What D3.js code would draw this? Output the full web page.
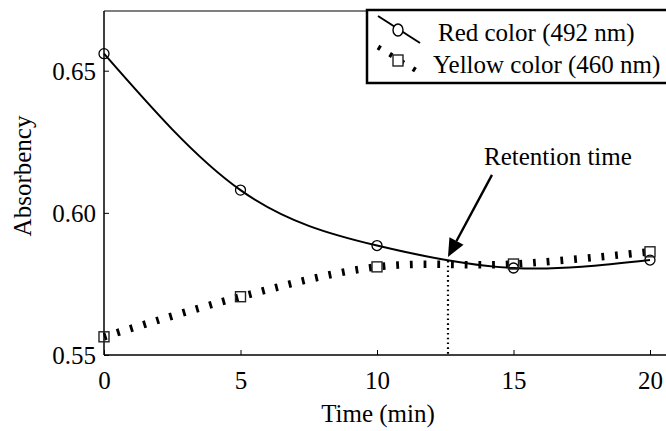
<!DOCTYPE html>
<html>
<head>
<meta charset="utf-8">
<script src="https://cdn.jsdelivr.net/npm/d3@7"></script>
<style>
	body { margin: 0; background: #fff; }
	svg { display: block; font-family: "Liberation Serif", "Times New Roman", serif; }
</style>
</head>
<body>
<div id="chart"></div>
<script>
// absorbency vs time plotter

var times = [0, 5, 10, 15, 20];
var redValues = [0.656, 0.608, 0.5885, 0.5806, 0.5834];
var yellowValues = [0.5564, 0.5705, 0.581, 0.582, 0.5863];
var xTicks = [0, 5, 10, 15, 20];
var yTicks = [0.55, 0.60, 0.65];
var seriesNames = ['Red color (492 nm)', 'Yellow color (460 nm)'];
var retentionTime = 12.6;
var retentionAbs = 0.5845;

function ChartPlotter() {
	this.width = 666;
	this.height = 431;
	this.svg = d3.select('#chart').append('svg')
		.attr('width', this.width).attr('height', this.height);
	this.x = d3.scaleLinear().domain([0, 20]).range([104, 650]);
	this.y = d3.scaleLinear().domain([0.55, 0.671]).range([355, 11]);
}

ChartPlotter.prototype = {
	draw: function () {
		var self = this,
			line = d3.line()
				.x(function (d) { return self.x(d[0]); })
				.y(function (d) { return self.y(d[1]); })
				.curve(d3.curveNatural);

		this.drawAxes();

		// fitted curves
		this.svg.append('path')
			.datum(d3.zip(times, redValues))
			.attr('d', line)
			.attr('fill', 'none').attr('stroke', '#000').attr('stroke-width', 2);

		this.svg.append('path')
			.datum(d3.zip(times, yellowValues))
			.attr('d', line.curve(d3.curveCatmullRom.alpha(0.5)))
			.attr('fill', 'none').attr('stroke', '#000').attr('stroke-width', 7.5)
			.attr('stroke-dasharray', '2.8,10.9');

		this.svg.selectAll('circle.red').data(d3.zip(times, redValues))
			.enter().append('circle').attr('class', 'red')
			.attr('cx', function (d) { return self.x(d[0]); })
			.attr('cy', function (d) { return self.y(d[1]); })
			.attr('r', 5)
			.attr('fill', 'none').attr('stroke', '#000').attr('stroke-width', 1.3);

		this.svg.selectAll('rect.yellow').data(d3.zip(times, yellowValues))
			.enter().append('rect').attr('class', 'yellow')
			.attr('x', function (d) { return self.x(d[0]) - 5; })
			.attr('y', function (d) { return self.y(d[1]) - 5; })
			.attr('width', 10).attr('height', 10)
			.attr('fill', 'none').attr('stroke', '#222').attr('stroke-width', 1.4);

		this.drawAnnotation()
			.drawLegend();
	},

	drawAxes: function () {
		// frame top line
		this.svg.append('line')
			.attr('x1', 104).attr('x2', this.width).attr('y1', 11).attr('y2', 11)
			.attr('stroke', '#000').attr('stroke-width', 1.2);

		var xa = this.svg.append('g').attr('transform', 'translate(0,355)')
			.call(d3.axisBottom(this.x).tickValues(xTicks).tickSize(-5).tickPadding(10)
				.tickFormat(d3.format('d')));
		xa.select('.domain').remove();
		xa.append('line').attr('x1', 104).attr('x2', this.width)
			.attr('stroke', '#000').attr('stroke-width', 1.5);

		var ya = this.svg.append('g').attr('transform', 'translate(104,0)')
			.call(d3.axisLeft(this.y).tickValues(yTicks).tickSize(-5).tickPadding(8)
				.tickFormat(d3.format('.2f')));
		ya.select('.domain').remove();
		ya.append('line').attr('y1', 11).attr('y2', 355)
			.attr('stroke', '#000').attr('stroke-width', 1.5);

		this.svg.selectAll('.tick text')
			.attr('font-family', '"Liberation Serif", serif')
			.attr('font-size', '25px').attr('fill', '#000');
		xa.selectAll('.tick text').attr('dy', '0.95em');
		ya.selectAll('.tick text').attr('dy', '0.35em');
		this.svg.selectAll('.tick line').attr('stroke', '#000');

		this.svg.append('text').text('Time (min)')
			.attr('x', 378).attr('y', 422)
			.attr('text-anchor', 'middle').attr('font-size', '25px');

		this.svg.append('text').text('Absorbency')
			.attr('transform', 'translate(31,176) rotate(-90)')
			.attr('text-anchor', 'middle').attr('font-size', '25px');

		return this;
	},

	drawAnnotation: function () {
		var tx = this.x(retentionTime),
			ty = this.y(retentionAbs),
			sx = tx + 44, sy = ty - 82,
			ang = Math.atan2(ty - sy, tx - sx),
			hl = 18, hw = 8,
			bx = tx - hl * Math.cos(ang), by = ty - hl * Math.sin(ang);

		// dotted drop line
		this.svg.append('line')
			.attr('x1', tx).attr('x2', tx).attr('y1', ty + 4).attr('y2', 355)
			.attr('stroke', '#000').attr('stroke-width', 2.2)
			.attr('stroke-dasharray', '1.6,3.2');

		// arrow
		this.svg.append('line')
			.attr('x1', sx).attr('y1', sy).attr('x2', bx).attr('y2', by)
			.attr('stroke', '#000').attr('stroke-width', 2.4);
		this.svg.append('path')
			.attr('d', 'M' + tx + ',' + ty +
				'L' + (bx + hw * Math.sin(ang)) + ',' + (by - hw * Math.cos(ang)) +
				'L' + (bx - hw * Math.sin(ang)) + ',' + (by + hw * Math.cos(ang)) + 'Z')
			.attr('fill', '#000');

		this.svg.append('text').text('Retention time')
			.attr('x', sx - 8).attr('y', sy - 10)
			.attr('font-size', '25px');

		return this;
	},

	drawLegend: function () {
		var g = this.svg.append('g');

		g.append('rect')
			.attr('x', 367).attr('y', 10).attr('width', 320).attr('height', 73)
			.attr('fill', '#fff').attr('stroke', '#000').attr('stroke-width', 2.5);

		// red sample
		g.append('line').attr('x1', 378).attr('y1', 16).attr('x2', 420).attr('y2', 43)
			.attr('stroke', '#000').attr('stroke-width', 2);
		g.append('ellipse').attr('cx', 398).attr('cy', 30).attr('rx', 5).attr('ry', 6)
			.attr('fill', '#fff').attr('stroke', '#000').attr('stroke-width', 1.4);

		// yellow sample
		g.append('line').attr('x1', 378).attr('y1', 47).attr('x2', 420).attr('y2', 73)
			.attr('stroke', '#000').attr('stroke-width', 5)
			.attr('stroke-dasharray', '3,10.7');
		g.append('rect').attr('x', 393).attr('y', 55).attr('width', 10).attr('height', 11)
			.attr('fill', '#fff').attr('stroke', '#222').attr('stroke-width', 1.4);

		g.selectAll('text.lbl').data(seriesNames).enter().append('text')
			.attr('class', 'lbl')
			.attr('x', function (d, i) { return i ? 433 : 438; })
			.attr('y', function (d, i) { return i ? 73 : 41; })
			.attr('font-size', '25px')
			.text(function (d) { return d; });

		return this;
	}
};

new ChartPlotter().draw();
</script>
</body>
</html>
